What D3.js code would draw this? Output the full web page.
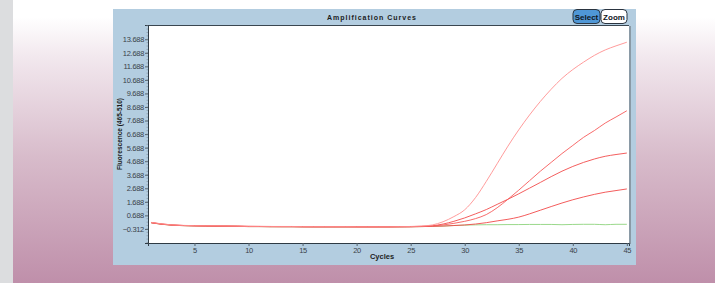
<!DOCTYPE html>
<html>
<head>
<meta charset="utf-8">
<script src="https://cdn.jsdelivr.net/npm/d3@7"></script>
<style>
  html, body { margin: 0; padding: 0; }
  body { width: 715px; height: 283px; overflow: hidden; }
  svg { display: block; font-family: "Liberation Sans", "DejaVu Sans", sans-serif; }
</style>
</head>
<body>
<div id="chart"></div>
<script>
// cycle numbers and fluorescence readings (465-510)
const cycles = [1,2,3,4,5,6,7,8,9,10,11,12,13,14,15,16,17,18,19,20,21,22,23,24,25,26,27,28,29,30,31,32,33,34,35,36,37,38,39,40,41,42,43,44,45];

const curveA = [0.17,0.06,-0.02,-0.05,-0.07,-0.08,-0.08,-0.09,-0.1,-0.12,-0.12,-0.13,-0.13,-0.13,-0.14,-0.14,-0.14,-0.14,-0.14,-0.15,-0.15,-0.15,-0.15,-0.14,-0.13,-0.1,-0.02,0.22,0.6,1.1,2.0,3.2,4.5,5.8,7.0,8.1,9.1,10.0,10.8,11.45,12.0,12.5,12.9,13.2,13.47];
const curveB = [0.15,0.04,-0.03,-0.06,-0.08,-0.09,-0.1,-0.1,-0.11,-0.13,-0.13,-0.14,-0.14,-0.14,-0.15,-0.15,-0.15,-0.15,-0.15,-0.16,-0.16,-0.16,-0.16,-0.15,-0.15,-0.13,-0.1,-0.02,0.1,0.25,0.45,0.75,1.25,1.88,2.55,3.25,3.95,4.6,5.25,5.85,6.45,6.95,7.5,7.95,8.41];
const curveC = [0.16,0.05,-0.02,-0.06,-0.07,-0.09,-0.09,-0.1,-0.11,-0.12,-0.13,-0.13,-0.14,-0.14,-0.14,-0.15,-0.15,-0.15,-0.15,-0.15,-0.15,-0.15,-0.15,-0.14,-0.14,-0.12,-0.08,0.05,0.25,0.5,0.8,1.12,1.5,1.88,2.28,2.7,3.12,3.55,3.95,4.3,4.6,4.85,5.05,5.18,5.29];
const curveD = [0.14,0.03,-0.04,-0.07,-0.09,-0.1,-0.11,-0.11,-0.12,-0.14,-0.14,-0.15,-0.15,-0.15,-0.16,-0.16,-0.16,-0.16,-0.16,-0.16,-0.16,-0.16,-0.16,-0.16,-0.15,-0.14,-0.12,-0.1,-0.06,-0.02,0.05,0.15,0.28,0.4,0.56,0.8,1.07,1.34,1.6,1.84,2.05,2.24,2.4,2.52,2.64];
const curveNeg = [0.14,0.03,-0.04,-0.07,-0.09,-0.1,-0.11,-0.11,-0.12,-0.14,-0.14,-0.15,-0.15,-0.15,-0.16,-0.16,-0.16,-0.16,-0.16,-0.16,-0.16,-0.16,-0.16,-0.16,-0.15,-0.14,-0.12,-0.1,-0.06,-0.03,-0.01,0.0,0.0,0.01,0.01,0.02,0.02,0.02,0.0,0.02,0.03,0.03,0.0,0.03,0.03];

const yTicks = [-0.312,0.688,1.688,2.688,3.688,4.688,5.688,6.688,7.688,8.688,9.688,10.688,11.688,12.688,13.688];
const xTicks = [5,10,15,20,25,30,35,40,45];

const W = 715, H = 283;
const plot = { left: 148, right: 629, top: 25, bottom: 243 };

const svg = d3.select("#chart").append("svg")
    .attr("width", W)
    .attr("height", H);

// page background
const defs = svg.append("defs");
const grad = defs.append("linearGradient")
    .attr("id", "bg")
    .attr("x1", 0).attr("y1", 0).attr("x2", 0).attr("y2", 1);
grad.append("stop").attr("offset", "0%").attr("stop-color", "#ffffff");
grad.append("stop").attr("offset", "6%").attr("stop-color", "#ffffff");
grad.append("stop").attr("offset", "20%").attr("stop-color", "#f2e8ee");
grad.append("stop").attr("offset", "55%").attr("stop-color", "#d8bccb");
grad.append("stop").attr("offset", "100%").attr("stop-color", "#bf8faa");

svg.append("rect").attr("width", W).attr("height", H).attr("fill", "url(#bg)");
svg.append("rect").attr("width", 13).attr("height", H).attr("fill", "#dcdddf");

// the chart panel
svg.append("rect")
    .attr("x", 113).attr("y", 9)
    .attr("width", 523).attr("height", 256)
    .attr("fill", "#b3cde0");

svg.append("rect")
    .attr("x", plot.left).attr("y", plot.top)
    .attr("width", plot.right - plot.left).attr("height", plot.bottom - plot.top)
    .attr("fill", "#ffffff");

// shadow on right side of plot
svg.append("line")
    .attr("x1", plot.right + 1).attr("x2", plot.right + 1)
    .attr("y1", plot.top + 1).attr("y2", plot.bottom + 1)
    .attr("stroke", "#8a9aa6").attr("stroke-width", 2);
svg.append("line")
    .attr("x1", plot.left).attr("x2", plot.right)
    .attr("y1", plot.top + 0.5).attr("y2", plot.top + 0.5)
    .attr("stroke", "#3a4650");

const x = d3.scaleLinear().domain([0.7, 45.2]).range([plot.left, plot.right]);
const y = d3.scaleLinear().domain([-1.35, 14.74]).range([plot.bottom, plot.top]);

// axes
const tickFont = 7.5;
const yAxis = svg.append("g")
    .attr("transform", `translate(${plot.left},0)`)
    .call(d3.axisLeft(y).tickValues(yTicks).tickFormat(d3.format(".3f")).tickSize(3).tickPadding(1));
const xAxis = svg.append("g")
    .attr("transform", `translate(0,${plot.bottom})`)
    .call(d3.axisBottom(x).tickValues(xTicks).tickFormat(d3.format("d")).tickSize(3).tickPadding(2));

[xAxis, yAxis].forEach(g => {
    g.select(".domain").attr("stroke", "#2e3a44");
    g.selectAll(".tick line").attr("stroke", "#55626c");
    g.selectAll("text")
        .attr("fill", "#3a424a")
        .style("font-size", tickFont + "px")
        .style("letter-spacing", "-0.3px");
});

// minor ticks on y axis
svg.append("g").selectAll("line")
    .data(d3.range(-1.312, 14.7, 0.25).filter(v => y(v) < plot.bottom && y(v) > plot.top))
    .join("line")
    .attr("x1", plot.left - 1.5).attr("x2", plot.left)
    .attr("y1", d => y(d)).attr("y2", d => y(d))
    .attr("stroke", "#7d8a94").attr("stroke-width", 0.6);

// curves
const line = d3.line()
    .x((d, i) => x(cycles[i]))
    .y(d => y(d))
    .curve(d3.curveMonotoneX);

const series = [
    { values: curveNeg, color: "#8ed47e" },
    { values: curveD, color: "#f24a4a" },
    { values: curveC, color: "#f24c4c" },
    { values: curveB, color: "#f65a5a" },
    { values: curveA, color: "#ff9090" }
];

svg.append("g").selectAll("path")
    .data(series)
    .join("path")
    .attr("d", d => line(d.values))
    .attr("fill", "none")
    .attr("stroke", d => d.color)
    .attr("stroke-width", 0.9);

// titles
svg.append("text")
    .attr("x", 372).attr("y", 20)
    .attr("text-anchor", "middle")
    .style("font-size", "7px")
    .style("font-weight", "bold")
    .style("letter-spacing", "1px")
    .attr("fill", "#1c1c1c")
    .text("Amplification Curves");

svg.append("text")
    .attr("x", 382).attr("y", 259)
    .attr("text-anchor", "middle")
    .style("font-size", "7.5px")
    .style("font-weight", "bold")
    .attr("fill", "#1c1c1c")
    .text("Cycles");

svg.append("text")
    .attr("transform", `translate(122,134) rotate(-90)`)
    .attr("text-anchor", "middle")
    .style("font-size", "6.5px")
    .style("font-weight", "bold")
    .attr("fill", "#1c1c1c")
    .text("Fluorescence (465-510)");

// buttons
const buttons = [
    { label: "Select", x: 573, w: 27, fill: "#4f97d6" },
    { label: "Zoom", x: 601, w: 26, fill: "#ffffff" }
];
const btn = svg.append("g").selectAll("g")
    .data(buttons)
    .join("g");
btn.append("rect")
    .attr("x", d => d.x).attr("y", 9.5)
    .attr("width", d => d.w).attr("height", 14)
    .attr("rx", 4)
    .attr("fill", d => d.fill)
    .attr("stroke", "#2a3440")
    .attr("stroke-width", 1);
btn.append("text")
    .attr("x", d => d.x + d.w / 2).attr("y", 19.5)
    .attr("text-anchor", "middle")
    .style("font-size", "8px")
    .style("font-weight", "bold")
    .attr("fill", "#10161c")
    .text(d => d.label);
</script>
</body>
</html>
